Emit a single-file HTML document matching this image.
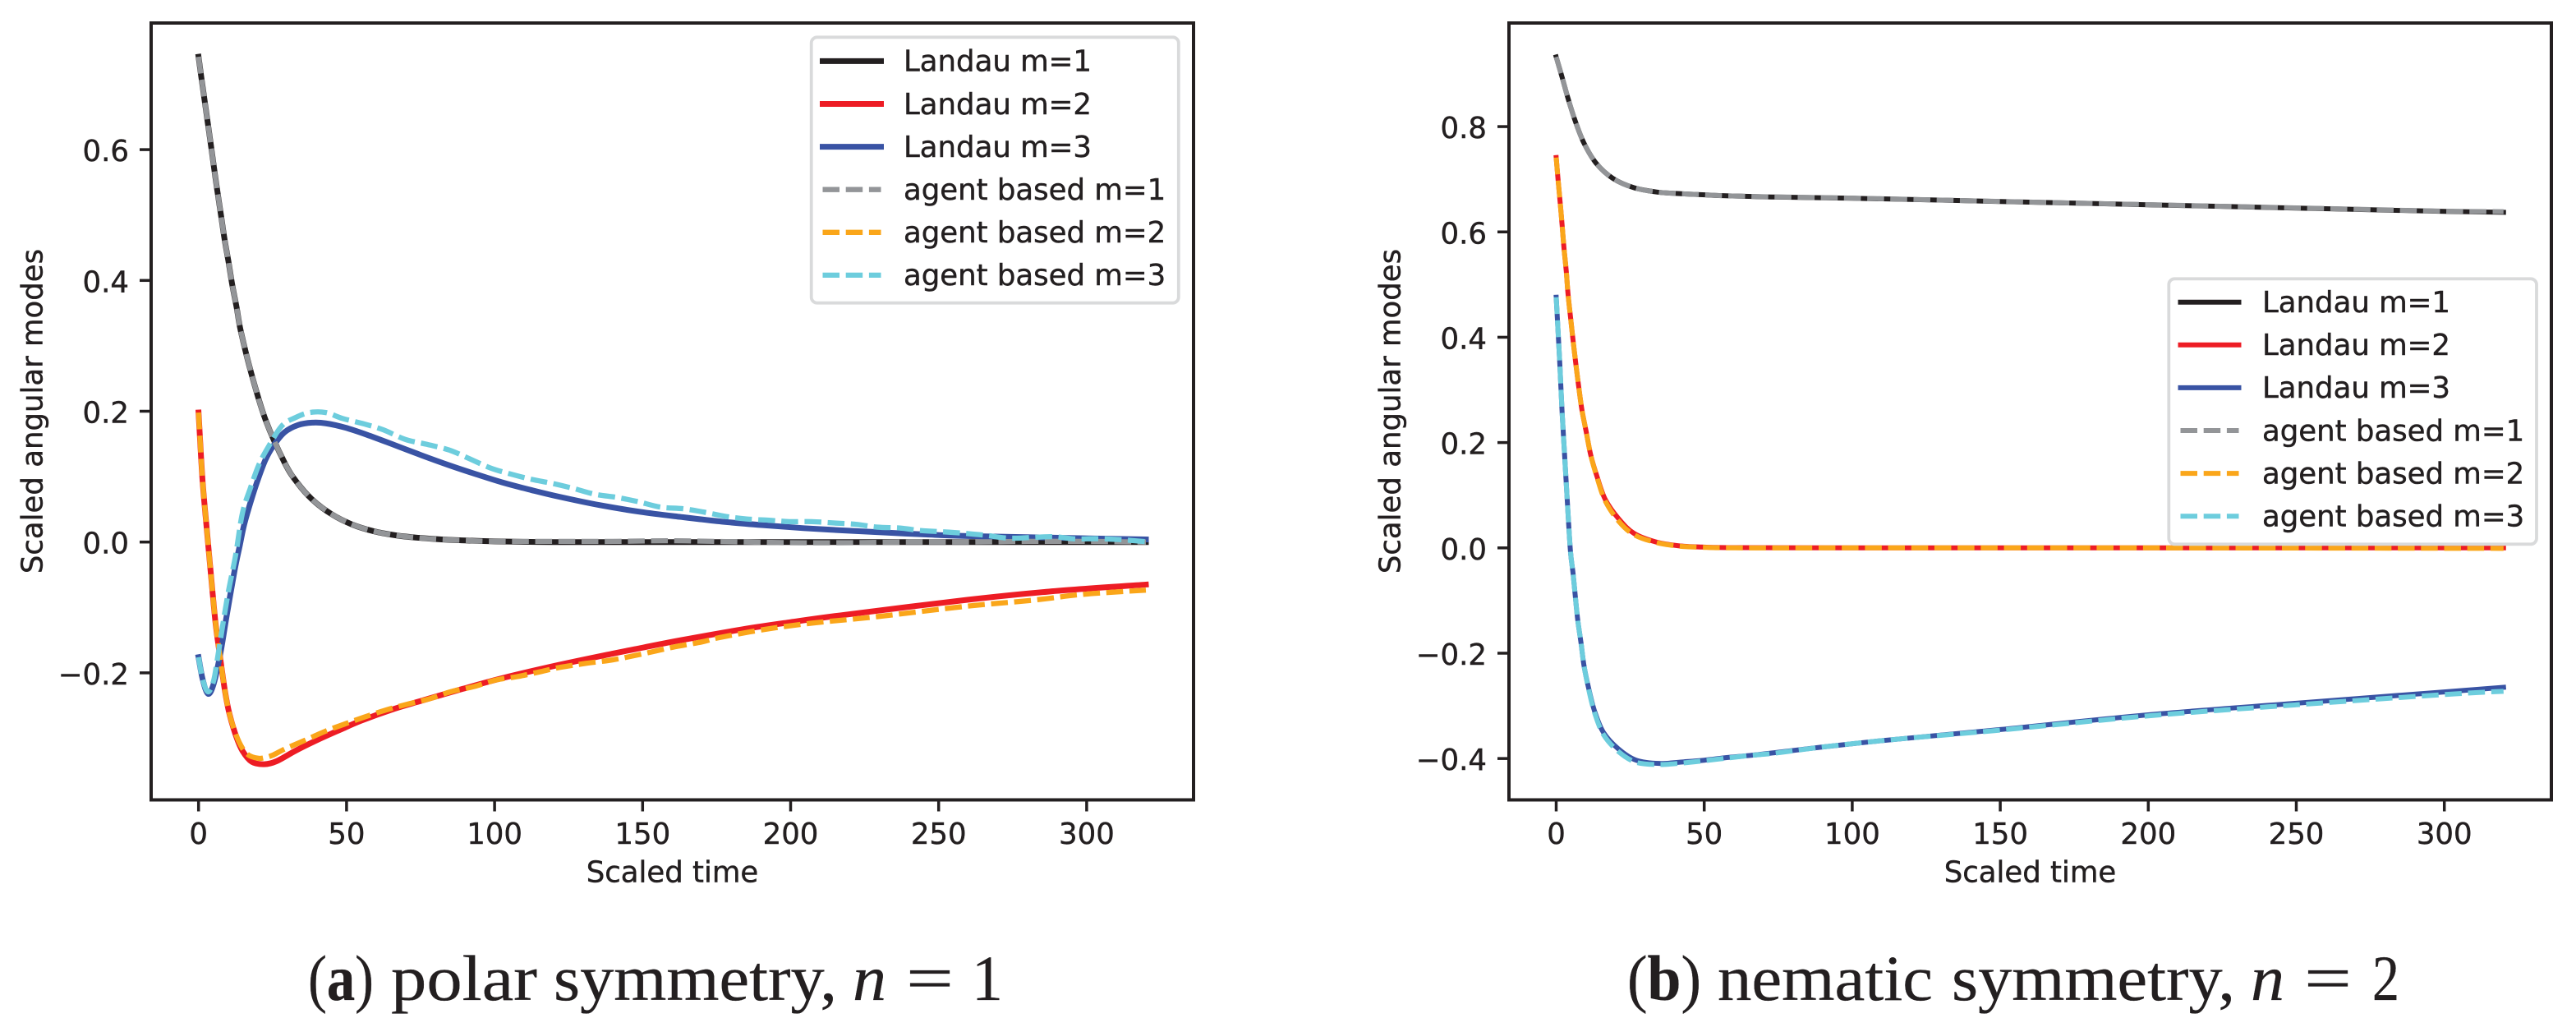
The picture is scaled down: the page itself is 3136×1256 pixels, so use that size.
<!DOCTYPE html>
<html lang="en">
<head>
<meta charset="utf-8">
<title>Scaled angular modes: polar and nematic symmetry</title>
<style>
html,body{margin:0;padding:0;background:#fff;width:3136px;height:1256px;overflow:hidden}
svg{display:block;position:absolute;left:0;top:0}
text{fill:#231f20}
.mpl{font-family:"DejaVu Sans",sans-serif;font-size:35.5px;stroke:#231f20;stroke-width:.45px}
.cap{font-family:"Liberation Serif",serif;font-size:78px;stroke:#231f20;stroke-width:.3px}
</style>
</head>
<body>
<svg id="figure" xmlns="http://www.w3.org/2000/svg" width="3136" height="1256" viewBox="0 0 3136 1256">
  <rect x="0" y="0" width="3136" height="1256" fill="#fff"/>
  <g id="panel-a"></g>
  <g id="panel-b"></g>
  <g>
    <text class="cap" x="375" y="1217" textLength="80" lengthAdjust="spacingAndGlyphs">(<tspan font-weight="bold">a</tspan>)</text>
    <text class="cap" x="476" y="1217" textLength="178" lengthAdjust="spacingAndGlyphs">polar</text>
    <text class="cap" x="674" y="1217" textLength="345" lengthAdjust="spacingAndGlyphs">symmetry,</text>
    <text class="cap" x="1038" y="1217" font-style="italic" textLength="41" lengthAdjust="spacingAndGlyphs">n</text>
    <text class="cap" x="1103" y="1217" textLength="58" lengthAdjust="spacingAndGlyphs">=</text>
    <text class="cap" x="1183" y="1217" textLength="38" lengthAdjust="spacingAndGlyphs">1</text>
  </g>
  <g>
    <text class="cap" x="1981" y="1217" textLength="90" lengthAdjust="spacingAndGlyphs">(<tspan font-weight="bold">b</tspan>)</text>
    <text class="cap" x="2091" y="1217" textLength="262" lengthAdjust="spacingAndGlyphs">nematic</text>
    <text class="cap" x="2376" y="1217" textLength="345" lengthAdjust="spacingAndGlyphs">symmetry,</text>
    <text class="cap" x="2740" y="1217" font-style="italic" textLength="41" lengthAdjust="spacingAndGlyphs">n</text>
    <text class="cap" x="2805" y="1217" textLength="58" lengthAdjust="spacingAndGlyphs">=</text>
    <text class="cap" x="2888" y="1217" textLength="33" lengthAdjust="spacingAndGlyphs">2</text>
  </g>
</svg>
<script>
// ---- shared tick data ----
const xTickValues = [0, 50, 100, 150, 200, 250, 300];
const yTicksPolar = [-0.2, 0.0, 0.2, 0.4, 0.6];
const yTicksNematic = [-0.4, -0.2, 0.0, 0.2, 0.4, 0.6, 0.8];
const legendLabels = ["Landau m=1", "Landau m=2", "Landau m=3", "agent based m=1", "agent based m=2", "agent based m=3"];

// ---- panel (a) polar symmetry ----
const polarLandau1T = [0,1,2.1,3.2,4.3,5.36,6.46,7.66,8.8,10.16,11.4,12.9,14.3,18,22.7,29.1,33.3,38.4,44.8,51.8,59.2,67,74.4,82,90,100,120,160,200,260,320];
const polarLandau1V = [0.742,0.7087,0.6735,0.6383,0.603,0.568,0.5335,0.4975,0.4627,0.4275,0.393,0.358,0.322,0.255,0.186,0.121,0.091,0.065,0.043,0.027,0.0165,0.01,0.0065,0.004,0.0025,0.001,0,0,0,0,0];
const polarLandau2T = [0,0.45,1.4,2.8,4.2,5.7,7.1,8.9,10.4,12.7,14.8,18,22.2,26.4,32.8,40.2,47.6,55,66.1,75.4,89.2,103.1,121.6,140,150,163,183.7,200,218.2,259.7,287.3,320];
const polarLandau2V = [0.198,0.162,0.091,0.019,-0.0505,-0.122,-0.17,-0.227,-0.262,-0.297,-0.319,-0.336,-0.3397,-0.335,-0.319,-0.3025,-0.2875,-0.273,-0.255,-0.2425,-0.2245,-0.2075,-0.188,-0.1705,-0.1615,-0.15,-0.1335,-0.1225,-0.1113,-0.0883,-0.0757,-0.065];
const polarLandau3T = [0,1.4,3.2,5.1,7.4,9.5,12.2,13.9,15.4,17.6,19.9,22.6,25.4,29.1,33.7,38.4,43,49.5,56.9,66.1,75.4,84.6,93.9,103.1,112.4,121.6,135.4,149.2,163,176.8,190.6,204.4,218.2,232,245.9,259.7,287.3,320];
const polarLandau3V = [-0.176,-0.21,-0.232,-0.217,-0.17,-0.1128,-0.043,-0.006,0.0264,0.0613,0.0935,0.1258,0.148,0.168,0.179,0.1825,0.1815,0.175,0.164,0.1485,0.1325,0.1175,0.1035,0.0905,0.0795,0.0695,0.0565,0.0462,0.0383,0.0312,0.0258,0.0212,0.0177,0.0145,0.0115,0.0092,0.0068,0.004];
const polarAgent1T = [0,1,2.1,3.2,4.3,5.36,6.46,7.66,8.8,10.16,11.4,12.9,14.3,18,22.7,29.1,33.3,38.4,44.8,51.8,59.2,67,74.4,82,90,100,120,140,160,180,200,220,240,260,280,300,320];
const polarAgent1V = [0.742,0.7087,0.6735,0.6383,0.603,0.568,0.5335,0.4975,0.4627,0.4275,0.393,0.358,0.322,0.255,0.186,0.121,0.091,0.065,0.043,0.027,0.0165,0.01,0.0065,0.004,0.0025,0.001,0.001,0.001,0.002,0.0005,-0.001,-0.001,0,0,0.001,0.001,0];
const polarAgent2T = [0,0.45,1.4,2.8,4.2,5.7,7.1,8.9,10.4,12.7,14.8,17,20,22,25,29.1,36,43,49.5,56,63.3,70.7,78.1,85.5,93,100.3,107.7,115,121.6,130,140,150,160,170,176,191.3,207.2,229.3,259.7,281.7,297,312,320];
const polarAgent2V = [0.198,0.162,0.091,0.019,-0.0505,-0.122,-0.17,-0.227,-0.262,-0.295,-0.315,-0.326,-0.3305,-0.33,-0.326,-0.3165,-0.303,-0.289,-0.278,-0.2677,-0.2568,-0.2478,-0.2395,-0.2285,-0.221,-0.211,-0.2057,-0.1987,-0.192,-0.186,-0.18,-0.171,-0.161,-0.1527,-0.146,-0.1335,-0.124,-0.114,-0.098,-0.089,-0.0807,-0.0757,-0.0735];
const polarAgent3T = [0,1.4,3.2,5.1,6.5,9.7,12.5,14.8,17.6,20.4,23.6,28.2,32.8,37.5,43,48.6,56,62.4,69.8,77.2,84.6,91.1,98.5,105,112.4,119.7,127,134,141.6,148.5,156,163.7,170.6,178.2,185.1,192.7,199.6,207.2,214.8,222.3,229.3,236.9,243.7,251.4,259,266,273.5,281,288.7,296.3,303,310.7,320];
const polarAgent3V = [-0.176,-0.21,-0.229,-0.212,-0.175,-0.0853,-0.0207,0.0437,0.0836,0.1184,0.1457,0.178,0.1904,0.198,0.198,0.189,0.1805,0.1716,0.157,0.1493,0.1408,0.1283,0.1134,0.1045,0.096,0.0895,0.0815,0.073,0.068,0.0617,0.0534,0.0509,0.0459,0.0391,0.0353,0.0333,0.0312,0.0312,0.0291,0.027,0.0228,0.0215,0.0177,0.0157,0.0132,0.0102,0.006,0.0069,0.0082,0.0048,0.0052,0.0039,0.0006];

// ---- panel (b) nematic symmetry ----
const nematicLandau1T = [0,2,4.1,6.5,9.4,13.5,19.1,26.1,33.9,41.7,49.4,57.3,65.1,72.9,100,150,200,250,300,320];
const nematicLandau1V = [0.9323,0.8937,0.8516,0.8095,0.7684,0.7304,0.7018,0.6842,0.6758,0.6727,0.6706,0.6686,0.6675,0.6664,0.664,0.6578,0.6516,0.6453,0.639,0.6372];
const nematicLandau2T = [0,0.6,1.33,2,2.64,3.4,4,4.86,5.7,6.6,7.6,8.7,10.2,11.7,13.9,16.6,21.2,26.3,33.6,41.3,49.2,60,100,200,320];
const nematicLandau2V = [0.7413,0.7013,0.6566,0.6129,0.5687,0.5255,0.482,0.437,0.394,0.351,0.3063,0.2618,0.2187,0.1755,0.1336,0.0917,0.0546,0.0275,0.0114,0.004,0.0016,0.0005,0,0,0];
const nematicLandau3T = [0,0.42,1.25,2,2.9,3.8,4.8,5.7,6.5,7.3,8.4,9.4,11,13,16,21,27,34.8,43.1,50,58,65.8,73.7,89.4,104.2,118,150,200,250,300,320];
const nematicLandau3V = [0.476,0.433,0.346,0.257,0.1705,0.0842,-0.0053,-0.0484,-0.0947,-0.138,-0.181,-0.224,-0.2674,-0.3107,-0.3508,-0.3817,-0.4032,-0.4094,-0.4063,-0.4032,-0.398,-0.394,-0.389,-0.3785,-0.3694,-0.3618,-0.345,-0.317,-0.295,-0.2735,-0.2648];
const nematicAgent1T = [0,2,4.1,6.5,9.4,13.5,19.1,26.1,33.9,41.7,49.4,57.3,65.1,72.9,100,150,200,250,300,320];
const nematicAgent1V = [0.9323,0.8937,0.8516,0.8095,0.7684,0.7304,0.7018,0.6842,0.6758,0.6727,0.6708,0.6686,0.6675,0.6666,0.6642,0.658,0.6518,0.6457,0.6395,0.6385];
const nematicAgent2T = [0,0.6,1.33,2,2.64,3.4,4,4.86,5.7,6.6,7.6,8.7,10.2,11.7,13.9,16.6,21.2,26.3,33.6,41.3,49.2,60,100,200,320];
const nematicAgent2V = [0.7413,0.7013,0.6566,0.6129,0.5687,0.5255,0.482,0.437,0.394,0.351,0.3063,0.2618,0.2187,0.1755,0.1316,0.0887,0.05,0.025,0.0104,0.0035,0.0012,0,0,0,-0.001];
const nematicAgent3T = [0,0.42,1.25,2,2.9,3.8,4.8,5.7,6.5,7.3,8.4,9.4,11,13,16,21,27,34.8,43.1,50,58,65.8,73.7,89.4,104.2,118,150,200,250,300,320];
const nematicAgent3V = [0.476,0.433,0.346,0.257,0.1705,0.0842,-0.0053,-0.0484,-0.0947,-0.138,-0.181,-0.224,-0.2694,-0.3137,-0.3548,-0.3867,-0.4072,-0.4114,-0.4083,-0.4042,-0.399,-0.394,-0.39,-0.3785,-0.3694,-0.3618,-0.346,-0.319,-0.298,-0.2785,-0.2723];

const NS = "http://www.w3.org/2000/svg";
const INK = "#231f20";
const seriesColors = ["#231f20", "#ed1c24", "#3953a4", "#939598", "#faa61a", "#6dcddd"];
const seriesNames = ["landau-m1", "landau-m2", "landau-m3", "agent-m1", "agent-m2", "agent-m3"];

function svgEl(parent, tag, attrs, txt) {
  const el = document.createElementNS(NS, tag);
  for (const k in attrs) el.setAttribute(k, attrs[k]);
  if (txt !== undefined) el.textContent = txt;
  parent.appendChild(el);
  return el;
}

function smoothPath(px, py) {
  let d = "M" + px[0].toFixed(2) + " " + py[0].toFixed(2);
  for (let i = 0; i < px.length - 1; i++) {
    const i0 = Math.max(i - 1, 0), i3 = Math.min(i + 2, px.length - 1);
    const c1x = px[i] + (px[i + 1] - px[i0]) / 6, c1y = py[i] + (py[i + 1] - py[i0]) / 6;
    const c2x = px[i + 1] - (px[i3] - px[i]) / 6, c2y = py[i + 1] - (py[i3] - py[i]) / 6;
    d += "C" + c1x.toFixed(2) + " " + c1y.toFixed(2) + " " + c2x.toFixed(2) + " " + c2y.toFixed(2) + " " + px[i + 1].toFixed(2) + " " + py[i + 1].toFixed(2);
  }
  return d;
}

function fmtTick(v) {
  return (v < 0 ? "\u2212" : "") + Math.abs(v).toFixed(1);
}

function drawPanel(cfg) {
  const g = document.getElementById(cfg.id);
  const xScale = t => cfg.x0 + cfg.xPerUnit * t;
  const yScale = v => cfg.y0 - cfg.yPerUnit * v;
  const axL = cfg.left, axR = cfg.right, axT = 28, axB = 973.5;

  // series
  cfg.series.forEach((s, i) => {
    const px = s[0].map(xScale), py = s[1].map(yScale);
    const dashed = i >= 3;
    const path = svgEl(g, "path", {
      d: smoothPath(px, py), fill: "none", stroke: seriesColors[i],
      "stroke-width": dashed ? cfg.dashWidth : cfg.solidWidth,
      "stroke-linecap": dashed ? "butt" : "square",
      "stroke-linejoin": "round"
    });
    if (dashed) path.setAttribute("stroke-dasharray", "20.5 7.7");
    
    
  });

  // x ticks
  xTickValues.forEach(v => {
    const x = xScale(v);
    const tick = svgEl(g, "line", { x1: x, x2: x, y1: axB, y2: axB + 14, stroke: INK, "stroke-width": 3.5 });
    
    
    const lab = svgEl(g, "text", { class: "mpl", x: x, y: 1027, "text-anchor": "middle" }, String(v));
    
    
  });

  // y ticks
  cfg.yTicks.forEach(v => {
    const y = yScale(v);
    const tick = svgEl(g, "line", { x1: axL - 14, x2: axL, y1: y, y2: y, stroke: INK, "stroke-width": 3.5 });
    
    
    const lab = svgEl(g, "text", { class: "mpl", x: axL - 27, y: y + 14, "text-anchor": "end" }, fmtTick(v));
    
    
  });

  // axes frame
  const frame = svgEl(g, "rect", { x: axL, y: axT, width: axR - axL, height: axB - axT, fill: "none", stroke: INK, "stroke-width": 4 });
  
  

  // axis titles
  const xt = svgEl(g, "text", { class: "mpl", x: (axL + axR) / 2, y: 1073.5, "text-anchor": "middle" }, "Scaled time");
  
  
  const yt = svgEl(g, "text", { class: "mpl", transform: "translate(" + cfg.yTitleX + " 500.5) rotate(-90)", x: 0, y: 0, "text-anchor": "middle" }, "Scaled angular modes");
  
  

  // legend
  const lg = svgEl(g, "g", {});
  
  
  const box = svgEl(lg, "rect", { x: cfg.leg.x, y: cfg.leg.y, width: cfg.leg.w, height: cfg.leg.h, rx: 7, ry: 7, fill: "#fff", stroke: "#d9dadb", "stroke-width": 3.8 });
  
  
  legendLabels.forEach((label, i) => {
    const y = cfg.leg.row0 + i * 52.1;
    const dashed = i >= 3;
    const h = svgEl(lg, "line", {
      x1: cfg.leg.hx, x2: cfg.leg.hx + 71, y1: y, y2: y, stroke: seriesColors[i],
      "stroke-width": dashed ? cfg.dashWidth : cfg.solidWidth,
      "stroke-linecap": dashed ? "butt" : "square"
    });
    if (dashed) h.setAttribute("stroke-dasharray", "20.5 7.7");
    
    
    const t = svgEl(lg, "text", { class: "mpl", x: cfg.leg.tx, y: y + 12.3 }, label);
    
    
  });
}

drawPanel({
  id: "panel-a", left: 184, right: 1453, x0: 241.7, xPerUnit: 3.604, y0: 659.7, yPerUnit: 796,
  yTicks: yTicksPolar, yTitleX: 51.5, solidWidth: 7, dashWidth: 6.3,
  series: [[polarLandau1T, polarLandau1V], [polarLandau2T, polarLandau2V], [polarLandau3T, polarLandau3V],
           [polarAgent1T, polarAgent1V], [polarAgent2T, polarAgent2V], [polarAgent3T, polarAgent3V]],
  leg: { x: 987.7, y: 45.3, w: 447.1, h: 323.4, row0: 74.4, hx: 1001.5, tx: 1100 }
});

drawPanel({
  id: "panel-b", left: 1837, right: 3106, x0: 1894.5, xPerUnit: 3.604, y0: 666.8, yPerUnit: 640.9,
  yTicks: yTicksNematic, yTitleX: 1704.5, solidWidth: 6, dashWidth: 6,
  series: [[nematicLandau1T, nematicLandau1V], [nematicLandau2T, nematicLandau2V], [nematicLandau3T, nematicLandau3V],
           [nematicAgent1T, nematicAgent1V], [nematicAgent2T, nematicAgent2V], [nematicAgent3T, nematicAgent3V]],
  leg: { x: 2640.3, y: 339.3, w: 447.7, h: 323, row0: 367.7, hx: 2654.5, tx: 2754 }
});
</script>
</body>
</html>
